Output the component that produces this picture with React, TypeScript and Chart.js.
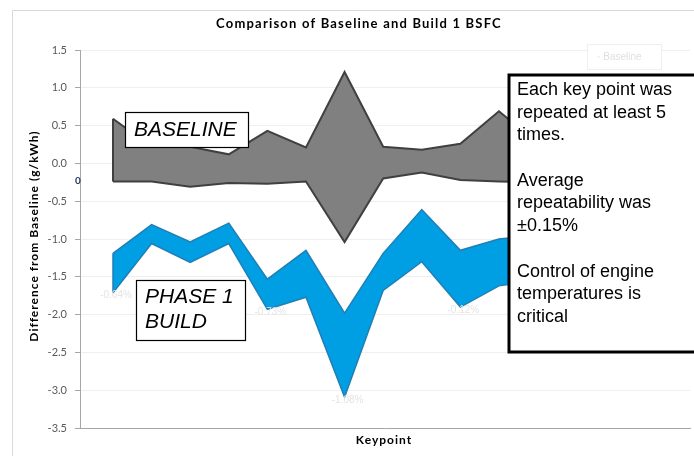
import React, { useEffect, useRef } from "react";
import { Chart, registerables } from "chart.js";

Chart.register(...registerables);

// ---- data ----
const keypoints = [1, 2, 3, 4, 5, 6, 7, 8, 9, 10, 11, 12];
const baselineUpper = [0.59, 0.22, 0.22, 0.12, 0.43, 0.21, 1.21, 0.22, 0.18, 0.26, 0.69, 0.27];
const baselineLower = [-0.24, -0.24, -0.31, -0.26, -0.27, -0.24, -1.04, -0.2, -0.12, -0.22, -0.24, -0.25];
const buildUpper = [-1.19, -0.81, -1.04, -0.79, -1.53, -1.15, -1.98, -1.19, -0.61, -1.15, -1.0, -0.95];
const buildLower = [-1.71, -1.06, -1.31, -1.06, -1.93, -1.77, -3.09, -1.68, -1.3, -1.9, -1.62, -1.55];
const pctLabels = ["-0.64%", "-0.73%", "-1.08%", "-0.12%"];
const pctLabelIdx = [0, 4, 6, 9];
const yMin = -3.5;
const yMax = 1.5;
const yStep = 0.5;
const titleText = "Comparison of Baseline and Build 1 BSFC";
const yTitle = "Difference from Baseline (g/kWh)";
const xTitle = "Keypoint";
const legendText = "Baseline";
const noteLines = [
  "Each key point was",
  "repeated at least 5",
  "times.",
  "",
  "Average",
  "repeatability was",
  "\u00b10.15%",
  "",
  "Control of engine",
  "temperatures is",
  "critical",
];

const FONT = "Lato, 'Open Sans', sans-serif";
const ARIAL = "'Liberation Sans', Arial, sans-serif";

const overlayPlugin = {
  id: "overlay",
  beforeDraw(chart: any) {
    const ctx = chart.ctx;
    ctx.save();
    ctx.fillStyle = "#ffffff";
    ctx.fillRect(0, 0, chart.width, chart.height);
    ctx.strokeStyle = "#d9d9d9";
    ctx.lineWidth = 1;
    ctx.beginPath();
    ctx.moveTo(12.5, chart.height);
    ctx.lineTo(12.5, 10.5);
    ctx.lineTo(chart.width, 10.5);
    ctx.stroke();
    // title
    ctx.fillStyle = "#000000";
    ctx.textAlign = "center";
    ctx.textBaseline = "middle";
    ctx.letterSpacing = "1.2px";
    ctx.font = `bold 13px ${FONT}`;
    ctx.fillText(titleText, 359, 24);
    // x title
    ctx.letterSpacing = "1px";
    ctx.font = `bold 12px ${FONT}`;
    ctx.fillText(xTitle, 384, 440);
    // y title
    ctx.translate(34, 236);
    ctx.rotate(-Math.PI / 2);
    ctx.letterSpacing = "1px";
    ctx.font = `bold 12px ${FONT}`;
    ctx.fillText(yTitle, 0, 0);
    ctx.letterSpacing = "0px";
    ctx.restore();
  },
  afterDatasetsDraw(chart: any) {
    const ctx = chart.ctx;
    const x = chart.scales.x;
    const y = chart.scales.y;
    ctx.save();
    // left vertical edges of the bands
    const edges = [
      { up: baselineUpper, lo: baselineLower, c: "#404040", w: 2 },
      { up: buildUpper, lo: buildLower, c: "#1f7fb6", w: 1.5 },
    ];
    edges.forEach((e) => {
      ctx.strokeStyle = e.c;
      ctx.lineWidth = e.w;
      ctx.beginPath();
      const px = x.getPixelForValue(keypoints[0]);
      ctx.moveTo(px, y.getPixelForValue(e.up[0]));
      ctx.lineTo(px, y.getPixelForValue(e.lo[0]));
      ctx.stroke();
    });
    // faint percentage labels
    ctx.fillStyle = "#e4e4e4";
    ctx.font = `10px ${ARIAL}`;
    ctx.textAlign = "center";
    ctx.textBaseline = "middle";
    pctLabels.forEach((t, i) => {
      const k = pctLabelIdx[i];
      ctx.fillText(t, x.getPixelForValue(keypoints[k]) + 3, y.getPixelForValue(buildLower[k]) + 3);
    });
    // "0" label near the axis
    ctx.fillStyle = "#1f3864";
    ctx.font = `bold 10px ${FONT}`;
    ctx.fillText("0", 78, 181);
    // faint legend
    ctx.strokeStyle = "#efefef";
    ctx.lineWidth = 1;
    ctx.fillStyle = "#ffffff";
    ctx.fillRect(587.5, 44.5, 74, 25);
    ctx.strokeRect(587.5, 44.5, 74, 25);
    ctx.fillStyle = "#e0e0e0";
    ctx.font = `10px ${ARIAL}`;
    ctx.textAlign = "left";
    ctx.fillText("\u25e6 " + legendText, 597, 57);
    // BASELINE box
    ctx.fillStyle = "#ffffff";
    ctx.fillRect(125, 112, 123, 35);
    ctx.strokeStyle = "#000000";
    ctx.lineWidth = 1.2;
    ctx.strokeRect(125.5, 112.5, 123, 35);
    ctx.fillStyle = "#000000";
    ctx.font = `italic 21px ${ARIAL}`;
    ctx.fillText("BASELINE", 134, 130);
    // PHASE 1 BUILD box
    ctx.fillStyle = "#ffffff";
    ctx.fillRect(136, 280, 109, 60);
    ctx.strokeRect(136.5, 280.5, 109, 60);
    ctx.fillStyle = "#000000";
    ctx.fillText("PHASE 1", 145, 297);
    ctx.fillText("BUILD", 145, 322);
    // note box
    ctx.fillStyle = "#ffffff";
    ctx.fillRect(508, 74, 200, 278);
    ctx.strokeStyle = "#000000";
    ctx.lineWidth = 3;
    ctx.strokeRect(509, 75, 200, 277);
    ctx.fillStyle = "#000000";
    ctx.font = `18px ${ARIAL}`;
    noteLines.forEach((t, i) => {
      if (t) ctx.fillText(t, 517, 90 + i * 22.7);
    });
    ctx.restore();
  },
};

export default function App() {
  const ref = useRef<HTMLCanvasElement>(null);
  useEffect(() => {
    if (!ref.current) return;
    const pts = (arr: number[]) => keypoints.map((k, i) => ({ x: k, y: arr[i] }));
    const chart = new Chart(ref.current, {
      type: "line",
      data: {
        datasets: [
          {
            label: "Baseline upper",
            data: pts(baselineUpper),
            borderColor: "#404040",
            borderWidth: 2,
            backgroundColor: "#808080",
            fill: "+1",
            pointRadius: 0,
            tension: 0,
          },
          {
            label: "Baseline lower",
            data: pts(baselineLower),
            borderColor: "#404040",
            borderWidth: 2,
            fill: false,
            pointRadius: 0,
            tension: 0,
          },
          {
            label: "Build upper",
            data: pts(buildUpper),
            borderColor: "#1f7fb6",
            borderWidth: 1.5,
            backgroundColor: "#009fe3",
            fill: "+1",
            pointRadius: 0,
            tension: 0,
          },
          {
            label: "Build lower",
            data: pts(buildLower),
            borderColor: "#1f7fb6",
            borderWidth: 1.5,
            fill: false,
            pointRadius: 0,
            tension: 0,
          },
        ],
      },
      options: {
        responsive: false,
        animation: false,
        devicePixelRatio: 1,
        layout: { padding: { left: 0, top: 50, right: 4, bottom: 28 } },
        plugins: {
          legend: { display: false },
          tooltip: { enabled: false },
          title: { display: false },
          filler: { drawTime: "beforeDatasetsDraw" },
        },
        scales: {
          x: {
            type: "linear",
            min: keypoints[0] - 0.855,
            max: keypoints[0] + 14.95,
            ticks: { display: false },
            grid: { display: true, color: "rgba(0,0,0,0)", drawTicks: false },
            border: { display: true, color: "#a6a6a6", width: 1 },
            afterFit: (s: any) => {
              s.height = 0;
            },
          },
          y: {
            min: yMin,
            max: yMax,
            ticks: {
              stepSize: yStep,
              padding: 8,
              color: "#595959",
              font: { family: FONT, size: 11 },
              callback: (v: any) => Number(v).toFixed(1),
            },
            grid: { color: "#efefef", tickLength: 5, tickColor: "#a6a6a6" },
            border: { display: true, color: "#a6a6a6", width: 1 },
            afterFit: (s: any) => {
              s.width = 80;
            },
          },
        },
      },
      plugins: [overlayPlugin],
    } as any);
    return () => chart.destroy();
  }, []);
  return (
    <div style={{ position: "fixed", left: 0, top: 0 }}>
      <canvas ref={ref} width={694} height={456} style={{ display: "block" }} />
    </div>
  );
}
